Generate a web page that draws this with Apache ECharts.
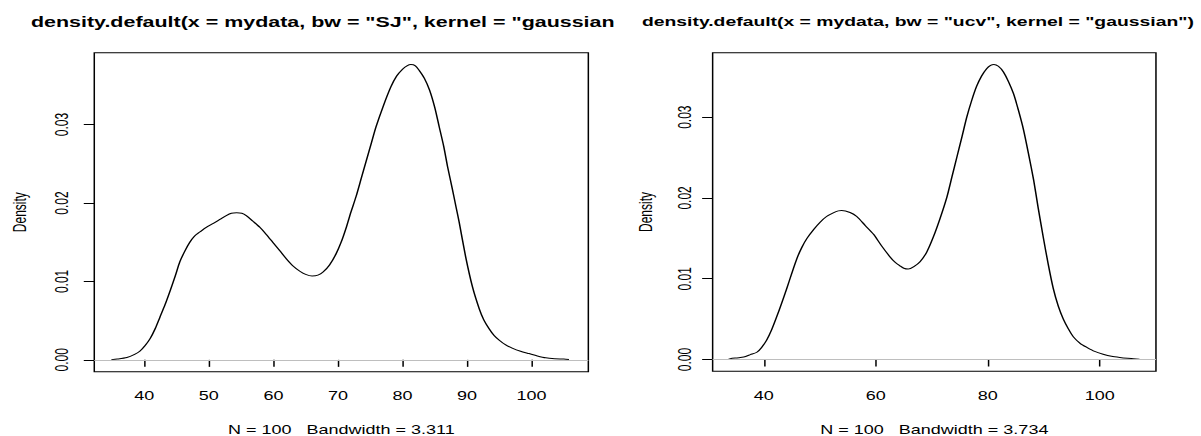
<!DOCTYPE html>
<html>
<head>
<meta charset="utf-8">
<script src="https://cdn.jsdelivr.net/npm/echarts@6/dist/echarts.min.js"></script>
<style>
html,body{margin:0;padding:0;overflow:hidden;background:#fff;width:1201px;height:436px}
#c{width:800px;height:436px;transform:scaleX(1.50125);transform-origin:0 0}
</style>
</head>
<body>
<div id="c"></div>
<script>
// ---- data ----
const titleSJ = 'density.default(x = mydata, bw = "SJ", kernel = "gaussian")';
const titleUCV = 'density.default(x = mydata, bw = "ucv", kernel = "gaussian")';
const subSJ = 'N = 100   Bandwidth = 3.311';
const subUCV = 'N = 100   Bandwidth = 3.734';
const yName = 'Density';

const xTicksSJ = [40, 50, 60, 70, 80, 90, 100];
const xTicksUCV = [40, 60, 80, 100];
const yTicks = [0, 0.01, 0.02, 0.03];

const sjX = [34.9,35.8,37.3,38.5,39.3,40.1,40.9,41.7,42.4,43.2,44.0,44.8,45.5,46.3,47.05,47.8,48.6,49.6,50.7,51.7,52.7,53.5,54.3,55.1,55.8,56.8,57.9,58.9,59.9,61.0,62.0,63.0,64.1,65.0,66.0,66.9,67.7,68.7,69.7,70.5,71.3,72.0,72.8,73.6,74.4,75.2,75.9,77.0,78.2,79.1,80.05,80.7,81.3,82.0,82.6,83.4,84.2,85.0,85.7,86.4,87.0,87.7,88.3,88.8,89.8,90.85,91.9,92.6,93.4,94.2,95.0,96.0,97.0,98.3,99.6,100.9,102.2,103.6,105.0,105.8];
const sjDensity = [0.00003,0.0001,0.0003,0.0007,0.0011,0.0018,0.0027,0.0040,0.0054,0.0070,0.0088,0.0107,0.0125,0.0139,0.0150,0.0158,0.0163,0.0169,0.0174,0.0179,0.0184,0.0187,0.01877,0.0187,0.0184,0.0177,0.0169,0.0160,0.0150,0.0139,0.0129,0.0120,0.0113,0.0109,0.0107,0.0108,0.0112,0.0121,0.0135,0.0150,0.0169,0.0188,0.0208,0.0231,0.0254,0.0277,0.0297,0.0323,0.0348,0.0362,0.0371,0.0375,0.03766,0.0375,0.0369,0.0359,0.0344,0.0322,0.0297,0.0272,0.0246,0.0219,0.0195,0.0175,0.0131,0.0093,0.0065,0.0051,0.0040,0.0031,0.0025,0.0019,0.0015,0.0011,0.0008,0.0005,0.00026,0.00015,0.0001,0.00005];

const ucvX = [33.7,34.0,35.2,36.4,37.6,38.75,39.6,40.5,41.4,42.3,43.2,44.1,45.0,45.9,46.8,47.7,48.9,50.05,51.2,52.4,53.3,53.9,55.4,56.6,58.1,59.6,61.0,62.55,63.5,64.3,65.0,65.8,66.8,67.9,69.1,70.3,71.5,72.7,73.6,74.5,75.4,76.25,77.1,78.0,78.9,79.8,80.5,81.1,81.9,82.8,83.7,84.6,85.5,86.4,87.3,88.2,89.0,89.9,90.8,91.7,92.6,93.5,94.4,95.3,96.5,97.7,99.1,100.6,102.1,103.6,105.0,106.0,107.1];
const ucvDensity = [0.00005,0.0001,0.0002,0.0003,0.0006,0.0009,0.0015,0.0024,0.0037,0.0053,0.0070,0.0088,0.0107,0.0125,0.0139,0.0150,0.0161,0.0170,0.0177,0.01815,0.0184,0.01845,0.0182,0.0177,0.0166,0.0155,0.0141,0.0127,0.0120,0.0116,0.0113,0.0112,0.0115,0.0121,0.0133,0.0152,0.0175,0.0201,0.0226,0.0251,0.0276,0.0300,0.0320,0.0338,0.0351,0.0360,0.0364,0.03652,0.0363,0.0356,0.0344,0.0329,0.0308,0.0284,0.0254,0.0222,0.0188,0.0152,0.0118,0.0088,0.0066,0.0050,0.0038,0.0028,0.0020,0.0015,0.0010,0.00066,0.0004,0.00025,0.00015,0.0001,0.00004];

// ---- chart ----
const FONT = 'Liberation Sans, Arial, Helvetica, sans-serif';
const txt = {color: '#000', fontFamily: FONT, fontSize: 12};
const chart = echarts.init(document.getElementById('c'), null, {renderer: 'svg', width: 800, height: 436});

function xAxis(idx, min, max, ticks, name) {
  return {
    gridIndex: idx, type: 'value', min: min, max: max,
    axisLine: {show: false}, splitLine: {show: false},
    axisTick: {show: true, customValues: ticks, length: 7, lineStyle: {color: '#000', width: 1}},
    axisLabel: Object.assign({customValues: ticks, margin: 18}, txt),
    name: name, nameLocation: 'middle', nameGap: 52, nameTextStyle: txt
  };
}
function yAxis(idx, min, max, margin, gap) {
  return {
    gridIndex: idx, type: 'value', min: min, max: max,
    axisLine: {show: false}, splitLine: {show: false},
    axisTick: {show: true, customValues: yTicks, length: 7, lineStyle: {color: '#000', width: 1}},
    axisLabel: Object.assign({customValues: yTicks, rotate: 90, margin: margin, formatter: v => v.toFixed(2)}, txt),
    name: yName, nameLocation: 'middle', nameRotate: 90, nameGap: gap, nameTextStyle: txt
  };
}
function series(idx, xs, ys) {
  return {
    type: 'line', xAxisIndex: idx, yAxisIndex: idx,
    data: xs.map((x, i) => [x, ys[i]]),
    showSymbol: false, smooth: 0.25,
    lineStyle: {color: '#000', width: 1},
    markLine: {
      silent: true, symbol: ['none', 'none'], label: {show: false},
      lineStyle: {color: '#bebebe', width: 1, type: 'solid'},
      data: [{yAxis: 0}]
    },
    z: 3
  };
}

chart.setOption({
  animation: false,
  backgroundColor: '#fff',
  title: [
    {text: titleSJ, left: 20.6, top: 15, padding: 0,
     textStyle: {color: '#000', fontFamily: FONT, fontSize: 14.3, fontWeight: 'bold', width: 392, overflow: 'truncate', ellipsis: ''}},
    {text: titleUCV, left: 427.6, top: 15, padding: 0,
     textStyle: {color: '#000', fontFamily: FONT, fontSize: 12.9, fontWeight: 'bold'}}
  ],
  grid: [
    {left: 62.8, top: 52.7, width: 329.1, height: 319, outerBoundsMode: 'none', show: true, borderColor: '#000', borderWidth: 1, backgroundColor: 'transparent'},
    {left: 474.7, top: 52.7, width: 295.3, height: 318.6, outerBoundsMode: 'none', show: true, borderColor: '#000', borderWidth: 1, backgroundColor: 'transparent'}
  ],
  xAxis: [
    xAxis(0, 32.25, 108.8, xTicksSJ, subSJ),
    xAxis(1, 30.85, 110.05, xTicksUCV, subUCV)
  ],
  yAxis: [
    yAxis(0, -0.00151, 0.03917, 16, 44),
    yAxis(1, -0.00146, 0.03798, 13, 39)
  ],
  series: [
    series(0, sjX, sjDensity),
    series(1, ucvX, ucvDensity)
  ]
});
</script>
</body>
</html>
